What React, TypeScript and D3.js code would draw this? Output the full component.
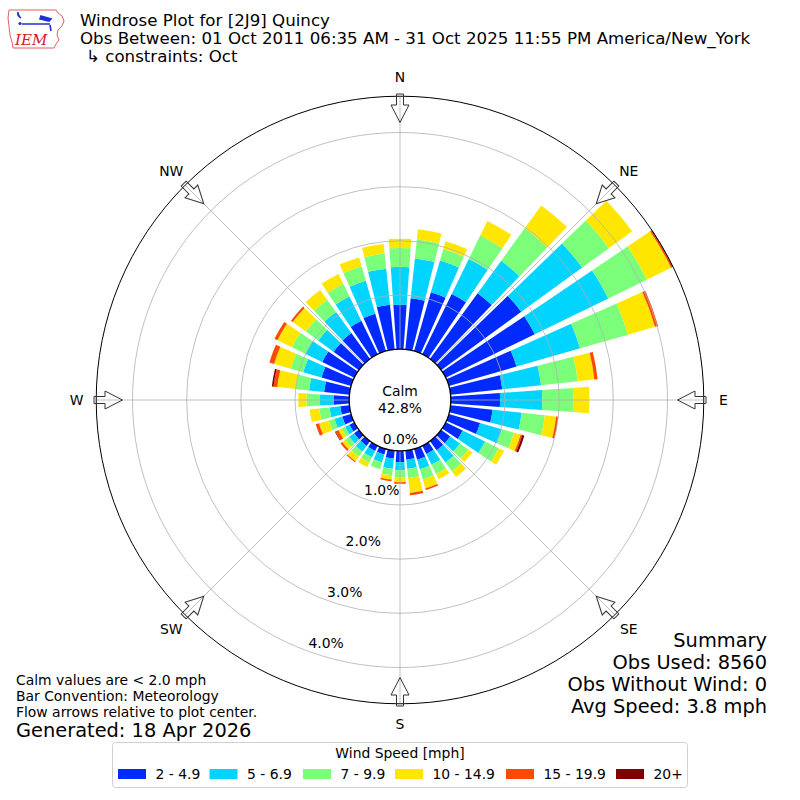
import React from 'react';
import * as d3 from 'd3';

// ---- data ----
const directions = [0, 10, 20, 30, 40, 50, 60, 70, 80, 90, 100, 110, 120, 130, 140, 150, 160, 170,
  180, 190, 200, 210, 220, 230, 240, 250, 260, 270, 280, 290, 300, 310, 320, 330, 340, 350];
const speedBins = ['2 - 4.9', '5 - 6.9', '7 - 9.9', '10 - 14.9', '15 - 19.9', '20+'];
const binColors = ['#002aff', '#00d4ff', '#7bff7b', '#ffe600', '#ff4800', '#800000'];
// percent of observations per direction, one array per speed bin
const bin2to5 = [0.82, 0.95, 1.13, 1.24, 1.50, 1.83, 1.83, 1.30, 0.96, 0.91, 0.78, 0.60, 0.35, 0.21, 0.21, 0.17, 0.21, 0.17,
  0.21, 0.15, 0.11, 0.11, 0.11, 0.11, 0.10, 0.17, 0.17, 0.29, 0.47, 0.57, 0.66, 0.58, 0.59, 0.69, 0.72, 0.83];
const bin5to7 = [0.70, 0.74, 0.61, 0.72, 0.74, 1.39, 1.51, 1.22, 0.72, 0.78, 0.54, 0.42, 0.46, 0.22, 0.28, 0.22, 0.18, 0.17,
  0.15, 0.19, 0.15, 0.13, 0.13, 0.11, 0.09, 0.15, 0.20, 0.25, 0.28, 0.35, 0.35, 0.35, 0.48, 0.50, 0.63, 0.67];
const bin7to10 = [0.35, 0.35, 0.22, 0.48, 0.74, 0.61, 0.79, 0.92, 0.68, 0.57, 0.43, 0.23, 0.28, 0.19, 0.20, 0.19, 0.20, 0.17,
  0.13, 0.12, 0.13, 0.11, 0.11, 0.09, 0.07, 0.11, 0.19, 0.25, 0.25, 0.24, 0.27, 0.28, 0.28, 0.26, 0.28, 0.28];
const bin10to15 = [0.17, 0.19, 0.15, 0.30, 0.52, 0.53, 0.50, 0.52, 0.31, 0.30, 0.21, 0.13, 0.11, 0.09, 0.13, 0.11, 0.17, 0.28,
  0.09, 0.08, 0.00, 0.09, 0.11, 0.07, 0.07, 0.19, 0.18, 0.15, 0.34, 0.32, 0.30, 0.30, 0.22, 0.20, 0.17, 0.18];
const bin15to20 = [0, 0, 0, 0, 0, 0, 0.03, 0.06, 0.06, 0, 0.04, 0.03, 0, 0, 0, 0, 0.03, 0.04,
  0.03, 0.03, 0, 0, 0.02, 0.04, 0.06, 0.06, 0, 0, 0.07, 0.09, 0.06, 0.04, 0, 0, 0, 0];
const bin20plus = [0, 0, 0, 0, 0, 0, 0.01, 0, 0, 0, 0, 0.04, 0, 0, 0, 0, 0, 0,
  0, 0, 0, 0, 0, 0, 0.01, 0, 0, 0, 0.03, 0, 0, 0, 0, 0, 0, 0];
const ringTicks = [0, 1, 2, 3, 4];
const compassLabels = ['N', 'NE', 'E', 'SE', 'S', 'SW', 'W', 'NW'];
const calmPct = 42.8;
const titleLines = [
  'Windrose Plot for [2J9] Quincy',
  'Obs Between: 01 Oct 2011 06:35 AM - 31 Oct 2025 11:55 PM America/New_York',
  '\u21b3 constraints: Oct',
];
const noteLines = ['Calm values are < 2.0 mph', 'Bar Convention: Meteorology', 'Flow arrows relative to plot center.'];
const generatedText = 'Generated: 18 Apr 2026';
const summaryLines = ['Summary', 'Obs Used: 8560', 'Obs Without Wind: 0', 'Avg Speed: 3.8 mph'];
const legendTitle = 'Wind Speed [mph]';

const FONT = 'DejaVu Sans, Verdana, sans-serif';

export default function App() {
  const cx = 400, cy = 400;
  const r0 = 50.8, R = 303.8;
  const series = [bin2to5, bin5to7, bin7to10, bin10to15, bin15to20, bin20plus];
  const totals = directions.map((_, i) => d3.sum(series, (s) => s[i]));
  const maxTotal = d3.max(totals) as number;
  const rScale = d3.scaleLinear().domain([0, maxTotal]).range([r0, R]);
  const halfW = (4 * Math.PI) / 180;
  const arc = d3.arc();

  const bars: any[] = [];
  directions.forEach((dir, i) => {
    let cum = 0;
    const a = (dir * Math.PI) / 180;
    series.forEach((s, k) => {
      const v = s[i];
      if (v <= 0) return;
      const d = arc({
        innerRadius: rScale(cum),
        outerRadius: rScale(cum + v),
        startAngle: a - halfW,
        endAngle: a + halfW,
      } as any) as string;
      bars.push(<path key={`b${i}-${k}`} d={d} fill={binColors[k]} />);
      cum += v;
    });
  });

  const pt = (deg: number, r: number) => {
    const a = (deg * Math.PI) / 180;
    return [r * Math.sin(a), -r * Math.cos(a)];
  };

  const gridColor = '#b0b0b0';
  const labelAngle = 200;
  const legendPatchX = [118, 209.5, 303, 395, 506, 616];

  return (
    <svg width={800} height={800} viewBox="0 0 800 800"
      style={{ position: 'absolute', left: 0, top: 0, background: '#fff' }}
      fontFamily={FONT}>
      <rect x={0} y={0} width={800} height={800} fill="#fff" />

      {/* logo */}
      <g>
        <path d="M9,10 L56,10 L58,13 L62,16 L64,21 L62,26 L58,30 L57,35 L59,40 L56,44 L54,48 L13,48 L12,42 L10,35 L9,26 L8,18 Z"
          fill="none" stroke="#e06060" strokeWidth={1} />
        <path d="M18,12 Q17,16 21,18 M22,24 L50,24 M41,16 L51,19 L49,21 L40,19 Z M50,25 L51,31"
          fill="#2030d0" stroke="#2030d0" strokeWidth={1.6} />
        <circle cx={20} cy={23.5} r={1.6} fill="#2030d0" />
        <text x={15} y={45} fontFamily="DejaVu Serif, serif" fontStyle="italic" fontSize={15} fill="#d42020">IEM</text>
      </g>

      {/* titles */}
      <g fontSize={16.67} fill="#000">
        <text x={80} y={26}>{titleLines[0]}</text>
        <text x={80} y={44}>{titleLines[1]}</text>
        <text x={86} y={62}>{titleLines[2]}</text>
      </g>

      <g transform={`translate(${cx},${cy})`}>
        {bars}
        {/* grid rings */}
        {ringTicks.filter((t) => t > 0).map((t) => (
          <circle key={`r${t}`} r={rScale(t)} fill="none" stroke={gridColor} strokeWidth={0.8} />
        ))}
        {/* spokes */}
        {compassLabels.map((_, i) => {
          const [x1, y1] = pt(i * 45, r0);
          const [x2, y2] = pt(i * 45, R);
          return <line key={`s${i}`} x1={x1} y1={y1} x2={x2} y2={y2} stroke={gridColor} strokeWidth={0.8} />;
        })}
        {/* calm circle */}
        <circle r={r0} fill="#fff" stroke="#000" strokeWidth={1.3} />
        <text x={0} y={-4} textAnchor="middle" fontSize={13.9}>Calm</text>
        <text x={0} y={13} textAnchor="middle" fontSize={13.9}>{`${calmPct.toFixed(1)}%`}</text>
        {/* ring labels */}
        {ringTicks.map((t) => {
          const [x, y] = pt(labelAngle, rScale(t));
          return (
            <text key={`rl${t}`} x={x} y={y - 3.3} fontSize={13.9} textAnchor="start">{`${t.toFixed(1)}%`}</text>
          );
        })}
        {/* outer frame */}
        <circle r={R} fill="none" stroke="#000" strokeWidth={1} />
        {/* arrows */}
        {compassLabels.map((_, i) => (
          <path key={`a${i}`} transform={`rotate(${i * 45})`}
            d="M-3.5,-306 L3.5,-306 L3.5,-295 L9,-295 L0,-277.5 L-9,-295 L-3.5,-295 Z"
            fill="none" stroke="#333" strokeWidth={1} strokeLinejoin="miter" />
        ))}
        {/* compass labels */}
        {compassLabels.map((lab, i) => {
          const [x, y] = pt(i * 45, 323.5);
          return (
            <text key={`c${i}`} x={x} y={y} textAnchor="middle" dominantBaseline="central" fontSize={13.9}>{lab}</text>
          );
        })}
      </g>

      {/* notes */}
      <g fontSize={13.9}>
        {noteLines.map((t, i) => (
          <text key={`n${i}`} x={16} y={685 + i * 16}>{t}</text>
        ))}
      </g>
      <text x={16} y={737} fontSize={19.4}>{generatedText}</text>

      {/* summary */}
      <g fontSize={19.4} textAnchor="end">
        {summaryLines.map((t, i) => (
          <text key={`m${i}`} x={767} y={647 + i * 22}>{t}</text>
        ))}
      </g>

      {/* legend */}
      <rect x={112.5} y={742.5} width={575} height={45} rx={3} fill="#fff" stroke="#d0d0d0" strokeWidth={1} />
      <text x={400} y={758} textAnchor="middle" fontSize={13.9}>{legendTitle}</text>
      {speedBins.map((lab, k) => (
        <g key={`l${k}`}>
          <rect x={legendPatchX[k]} y={769} width={28} height={10} fill={binColors[k]} />
          <text x={legendPatchX[k] + 37.5} y={779} fontSize={13.9}>{lab}</text>
        </g>
      ))}
    </svg>
  );
}
